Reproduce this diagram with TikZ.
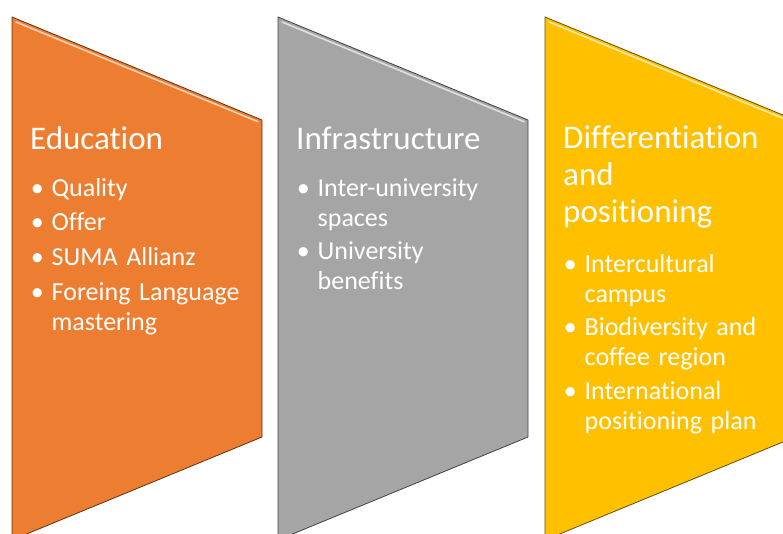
\documentclass[tikz,border=0pt]{standalone}
\usepackage{fontspec}
\setmainfont{Carlito}[Ligatures=NoCommon]
\usetikzlibrary{positioning}

\definecolor{naranja}{HTML}{ED7D31}
\definecolor{gris}{HTML}{A5A5A5}
\definecolor{oro}{HTML}{FFC000}
\newcommand{\punto}{\llap{\textbullet\hskip 8pt}}

\begin{document}
\begin{tikzpicture}[x=1pt,y=-1pt]
  \tikzset{bloque/.style={line width=0.8pt, line join=miter}, }
  \tikzset{brillo/.style={white, line width=1.6pt, opacity=0.65, line cap=round}, }
  \tikzset{titulo node/.style={anchor=base west, inner sep=0pt, text=white,
		text width=215pt, font=\fontsize{33}{37}\selectfont}, }
  \tikzset{item node/.style={anchor=base west, inner sep=0pt, text=white,
		text width=215pt, font=\fontsize{26}{30}\selectfont}, }
  \useasboundingbox (0,0) rectangle (783,533);
  \clip (0,0) rectangle (783,533);
%
\foreach \x/\c in {12/naranja,278/gris,545/oro}{
  \filldraw[bloque, fill=\c, draw=\c!40!black] (\x,17) -- ++(250,103) -- ++(0,317) -- ++(-250,103) -- cycle;
  \draw[brillo] (\x+4,22) -- ++(242,99.7);
}
%
    \node[titulo node] (edu) at (30,149) {Education};
    \node[item node] (edu1) at (51.5,196) {\punto Quality};
    \node[item node] (edu2) at (51.5,230) {\punto Offer};
    \node[item node] (edu3) at (51.5,265) {\punto SUMA Allianz};
    \node[item node] (edu4) at (51.5,300) {\punto Foreing Language\\mastering};
%
    \node[titulo node] (inf) at (296,149) {Infrastructure};
    \node[item node] (inf1) at (317.5,196) {\punto Inter-university\\spaces};
    \node[item node] (inf2) at (317.5,259) {\punto University\\benefits};
%
    \node[titulo node] (dif) at (563,148) {Differentiation\\and\\positioning};
    \node[item node] (dif1) at (584.5,272) {\punto Intercultural\\campus};
    \node[item node] (dif2) at (584.5,335) {\punto Biodiversity and\\coffee region};
    \node[item node] (dif3) at (584.5,399) {\punto International\\positioning plan};
%
\end{tikzpicture}
\end{document}
